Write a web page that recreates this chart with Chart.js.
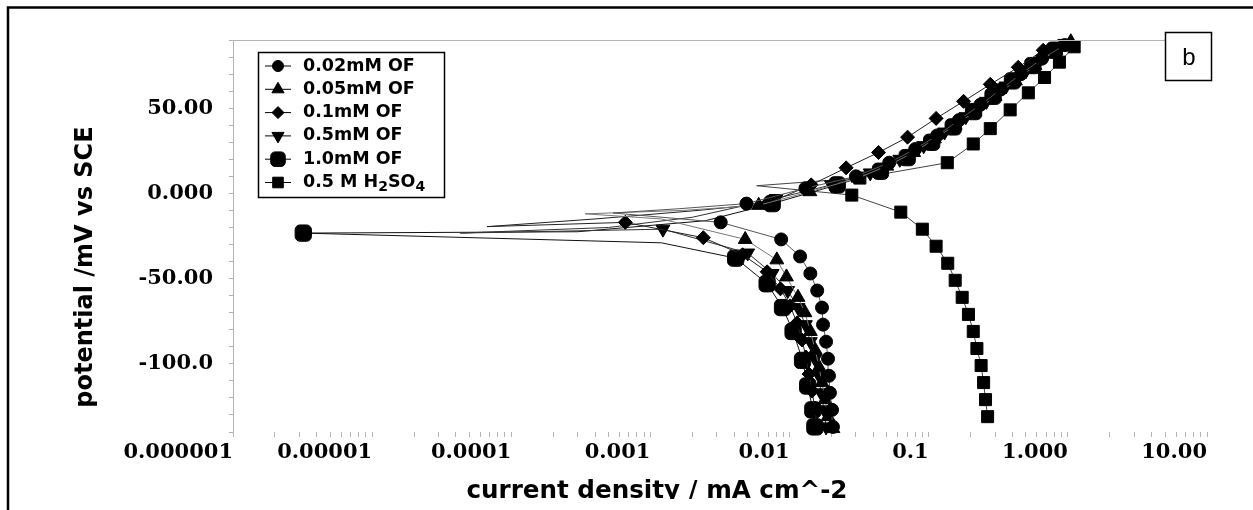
<!DOCTYPE html>
<html>
<head>
<meta charset="utf-8">
<script src="https://cdn.jsdelivr.net/npm/chart.js@4.4.1/dist/chart.umd.min.js"></script>
<style>
  html, body { margin: 0; padding: 0; background: #fff; }
  #wrap { position: relative; width: 1253px; height: 510px; overflow: hidden; }
</style>
</head>
<body>
<div id="wrap"><canvas id="chart" width="1253" height="510"></canvas></div>
<script>
// axis ticks
const xTickValues = [1e-6, 1e-5, 1e-4, 1e-3, 1e-2, 1e-1, 1, 10];
const xTickLabels = ['0.000001', '0.00001', '0.0001', '0.001', '0.01', '0.1', '1.000', '10.00'];
const yTickValues = [50, 0, -50, -100];
const yTickLabels = ['50.00', '0.000', '-50.00', '-100.0'];

const seriesNames = ['0.02mM OF', '0.05mM OF', '0.1mM OF', '0.5mM OF', '1.0mM OF', '0.5 M H2SO4'];

// current density (mA cm^-2) and potential (mV)
// cathodic branch (bottom up, marked), trace around the corrosion potential
// (line only), anodic branch (upwards, marked)
const cat02I = [0.0205, 0.0202, 0.0195, 0.0192, 0.0189, 0.0183, 0.0174, 0.0171, 0.0158, 0.0141, 0.0119, 0.0087, 0.0032];
const cat02E = [-137, -127, -117, -107, -97, -87, -77, -67, -57, -47, -37, -27, -17];
const tip02I = [0.00054, 0.0016];
const tip02E = [-11.5, -9];
const ano02I = [0.0049, 0.013, 0.030, 0.052, 0.080, 0.115, 0.165, 0.235, 0.33, 0.46, 0.65, 0.95];
const ano02E = [-6, 3, 10, 18, 26, 34, 43, 52, 61, 70, 79, 87];

const cat05I = [0.0205, 0.0189, 0.0180, 0.0171, 0.0163, 0.0153, 0.0141, 0.0129, 0.0115, 0.0095, 0.0081, 0.0048];
const cat05E = [-138, -131, -121, -111, -102, -92, -81, -70, -61, -49, -39, -27];
const tip05I = [0.0012, 0.00034, 0.0017];
const tip05E = [-15, -12, -10];
const ano05I = [0.0060, 0.014, 0.031, 0.050, 0.078, 0.11, 0.155, 0.215, 0.30, 0.42, 0.58, 0.82, 1.05];
const ano05E = [-7, 1, 9, 16, 24, 32, 40, 48, 57, 66, 75, 84, 89];

const cat1I = [0.0157, 0.0152, 0.0145, 0.0138, 0.0131, 0.0123, 0.0113, 0.0101, 0.0086, 0.0069, 0.0046, 0.0024, 0.00066];
const cat1E = [-136, -126, -116, -106, -96, -86, -76, -66, -56, -46, -36, -26, -17];
const tip1I = [0.000067, 0.0004, 0.0022];
const tip1E = [-19.5, -15, -10];
const ano1I = [0.0069, 0.0143, 0.0255, 0.0436, 0.0705, 0.113, 0.178, 0.277, 0.44, 0.665];
const ano1E = [-6, 5, 15, 24, 33, 44, 54, 64, 74, 84];

const cat5I = [0.0183, 0.0177, 0.0168, 0.0163, 0.0152, 0.0141, 0.0130, 0.0115, 0.0097, 0.0075, 0.0050, 0.00123];
const cat5E = [-137, -127, -117, -107, -97, -87, -77, -67, -57, -47, -35, -21];
const tip5I = [0.000043, 0.0005, 0.002];
const tip5E = [-23.3, -20, -14];
const ano5I = [0.008, 0.020, 0.038, 0.062, 0.092, 0.13, 0.185, 0.26, 0.36, 0.50, 0.70, 0.95];
const ano5E = [-3, 5, 12, 20, 28, 36, 45, 54, 63, 72, 81, 88];

const cat10I = [0.0152, 0.0147, 0.0135, 0.0124, 0.0106, 0.0089, 0.0069, 0.0041];
const cat10E = [-137, -127, -113, -98, -81, -67, -53, -38];
const tip10I = [0.0012, 0.0000032, 0.0003, 0.0025];
const tip10E = [-29, -23.3, -22.5, -16];
const ano10I = [0.0075, 0.022, 0.045, 0.070, 0.105, 0.15, 0.21, 0.29, 0.40, 0.56, 0.80];
const ano10E = [-6, 5, 13, 21, 30, 39, 48, 57, 66, 75, 84];

const catHI = [0.265, 0.256, 0.248, 0.238, 0.222, 0.209, 0.193, 0.174, 0.155, 0.137, 0.113, 0.090, 0.063, 0.028];
const catHE = [-131, -121, -111, -101, -91, -81, -71, -61, -51, -41, -31, -21, -11, -1];
const tipHI = [0.0058];
const tipHE = [4.5];
const anoHI = [0.032, 0.136, 0.209, 0.277, 0.385, 0.52, 0.68, 0.87, 1.11];
const anoHE = [9, 18, 29, 38, 49, 59, 68, 77, 86];

function curve(catI, catE, tipI, tipE, anoI, anoE) {
  const pts = catI.map((v, k) => ({ x: v, y: catE[k] }));
  tipI.forEach((v, k) => pts.push({ x: v, y: tipE[k] }));
  anoI.forEach((v, k) => pts.push({ x: v, y: anoE[k] }));
  return pts;
}

const markers = [
  { pointStyle: 'circle', radius: 6.5, rotation: 0 },
  { pointStyle: 'triangle', radius: 8, rotation: 0 },
  { pointStyle: 'rectRot', radius: 7, rotation: 0 },
  { pointStyle: 'triangle', radius: 8, rotation: 180 },
  { pointStyle: 'rectRounded', radius: 9.5, rotation: 0 },
  { pointStyle: 'rect', radius: 8.5, rotation: 0 }
];

// trace order per series; markExtreme: the far-left tip carries a marker
const curves = [
  { cat: cat02I, tip: tip02I, data: curve(cat02I, cat02E, tip02I, tip02E, ano02I, ano02E), markExtreme: false, line: '#555' },
  { cat: cat05I, tip: tip05I, data: curve(cat05I, cat05E, tip05I, tip05E, ano05I, ano05E), markExtreme: false, line: '#777' },
  { cat: cat1I, tip: tip1I, data: curve(cat1I, cat1E, tip1I, tip1E, ano1I, ano1E), markExtreme: false, line: '#222' },
  { cat: cat5I, tip: tip5I, data: curve(cat5I, cat5E, tip5I, tip5E, ano5I, ano5E), markExtreme: false, line: '#333' },
  { cat: cat10I, tip: tip10I, data: curve(cat10I, cat10E, tip10I, tip10E, ano10I, ano10E), markExtreme: true, line: '#111' },
  { cat: catHI, tip: tipHI, data: curve(catHI, catHE, tipHI, tipHE, anoHI, anoHE), markExtreme: false, line: '#444' }
];

const datasets = curves.map((c, k) => {
  const start = c.cat.length;
  const end = start + c.tip.length;
  const extreme = start + c.tip.indexOf(Math.min(...c.tip));
  return {
    label: seriesNames[k],
    data: c.data,
    showLine: true,
    borderColor: c.line,
    borderWidth: 1,
    tension: 0,
    backgroundColor: '#000',
    pointBackgroundColor: '#000',
    pointBorderColor: '#000',
    pointBorderWidth: 1,
    pointStyle: markers[k].pointStyle,
    pointRotation: markers[k].rotation,
    pointRadius: ctx => {
      const i = ctx.dataIndex;
      if (i >= start && i < end && !(c.markExtreme && i === extreme)) return 0;
      return markers[k].radius;
    },
    clip: false
  };
});

function isTick(v, list) {
  return list.findIndex(t => Math.abs(Math.log10(v) - Math.log10(t)) < 1e-6);
}

const decor = {
  id: 'decor',
  afterDraw(chart) {
    const ctx = chart.ctx;
    const a = chart.chartArea;
    ctx.save();
    // top edge of plot
    ctx.strokeStyle = '#b4b4b4';
    ctx.lineWidth = 1;
    ctx.beginPath();
    ctx.moveTo(a.left, a.top + 0.5);
    ctx.lineTo(a.right, a.top + 0.5);
    ctx.stroke();

    // outer frame
    ctx.strokeStyle = '#000';
    ctx.lineWidth = 2.5;
    ctx.beginPath();
    ctx.moveTo(8, 510);
    ctx.lineTo(8, 7.5);
    ctx.lineTo(1253, 7.5);
    ctx.stroke();

    // legend
    ctx.fillStyle = '#fff';
    ctx.fillRect(258, 52, 187, 146);
    ctx.strokeStyle = '#000';
    ctx.lineWidth = 1.5;
    ctx.strokeRect(258.5, 52.5, 186, 145);
    const rowY = 66, rowH = 23.3;
    seriesNames.forEach((name, k) => {
      const y = rowY + k * rowH;
      ctx.strokeStyle = '#000';
      ctx.lineWidth = 1;
      ctx.beginPath();
      ctx.moveTo(265, y);
      ctx.lineTo(291, y);
      ctx.stroke();
      ctx.fillStyle = '#000';
      Chart.helpers.drawPoint(ctx, {
        pointStyle: markers[k].pointStyle,
        rotation: markers[k].rotation,
        radius: markers[k].radius - 1,
        borderWidth: 1
      }, 278, y);
      ctx.fillStyle = '#000';
      ctx.textBaseline = 'middle';
      ctx.textAlign = 'left';
      ctx.font = 'bold 17.5px "DejaVu Sans"';
      if (name.indexOf('H2SO4') >= 0) {
        let x = 303;
        const parts = [['0.5 M H', 0], ['2', 1], ['SO', 0], ['4', 1]];
        parts.forEach(([t, sub]) => {
          ctx.font = sub ? 'bold 14px "DejaVu Sans"' : 'bold 17.5px "DejaVu Sans"';
          ctx.fillText(t, x, sub ? y + 5 : y);
          x += ctx.measureText(t).width;
        });
      } else {
        ctx.fillText(name, 303, y);
      }
    });

    // panel label
    ctx.fillStyle = '#fff';
    ctx.fillRect(1165, 32, 47, 49);
    ctx.strokeStyle = '#000';
    ctx.lineWidth = 1.5;
    ctx.strokeRect(1165.5, 32.5, 46, 48);
    ctx.fillStyle = '#000';
    ctx.font = '24px "Liberation Sans"';
    ctx.textAlign = 'center';
    ctx.textBaseline = 'middle';
    ctx.fillText('b', 1189, 58);

    // axis titles
    ctx.save();
    ctx.translate(86, 267);
    ctx.rotate(-Math.PI / 2);
    ctx.font = 'bold 24px "DejaVu Sans"';
    ctx.textAlign = 'center';
    ctx.textBaseline = 'middle';
    ctx.fillText('potential /mV vs SCE', 0, 0);
    ctx.restore();

    ctx.save();
    ctx.beginPath();
    ctx.rect(0, 0, 1253, 499);
    ctx.clip();
    ctx.font = 'bold 24.6px "DejaVu Sans"';
    ctx.textAlign = 'center';
    ctx.textBaseline = 'alphabetic';
    ctx.fillText('current density / mA cm^-2', 657, 498);
    ctx.restore();

    ctx.restore();
  }
};

Chart.defaults.font.family = '"DejaVu Serif"';
Chart.defaults.color = '#000';

new Chart(document.getElementById('chart'), {
  type: 'scatter',
  data: { datasets },
  options: {
    responsive: false,
    animation: false,
    devicePixelRatio: 1,
    layout: { padding: { top: 40, right: 46, left: 0, bottom: 0 } },
    plugins: { legend: { display: false }, tooltip: { enabled: false } },
    scales: {
      x: {
        type: 'logarithmic',
        min: 1e-6,
        max: 10,
        afterBuildTicks(scale) {
          const ticks = [];
          xTickValues.forEach((v, k) => {
            ticks.push({ value: v });
            if (k < xTickValues.length - 1) {
              for (let m = 2; m <= 9; m++) ticks.push({ value: v * m });
            }
          });
          scale.ticks = ticks;
        },
        afterFit(scale) { scale.height = 78; },
        border: { display: false },
        grid: { display: true, drawOnChartArea: false, drawTicks: true, tickLength: 5, color: '#b4b4b4' },
        ticks: {
          autoSkip: false,
          maxRotation: 0,
          align: 'end',
          padding: 3,
          font: { family: '"DejaVu Serif"', size: 21, weight: 'bold' },
          color: '#000',
          callback(value) {
            const k = isTick(value, xTickValues);
            return k >= 0 ? xTickLabels[k] : '';
          }
        }
      },
      y: {
        min: -140,
        max: 90,
        afterFit(scale) { scale.width = 233; },
        border: { display: true, color: '#b4b4b4', width: 1 },
        grid: { display: true, drawOnChartArea: false, drawTicks: true, tickLength: 4, color: '#b4b4b4' },
        ticks: {
          stepSize: 10,
          autoSkip: false,
          padding: 16,
          font: { family: '"DejaVu Serif"', size: 21, weight: 'bold' },
          color: '#000',
          callback(value) {
            const k = yTickValues.indexOf(value);
            return k >= 0 ? yTickLabels[k] : '';
          }
        }
      }
    }
  },
  plugins: [decor]
});
</script>
</body>
</html>
